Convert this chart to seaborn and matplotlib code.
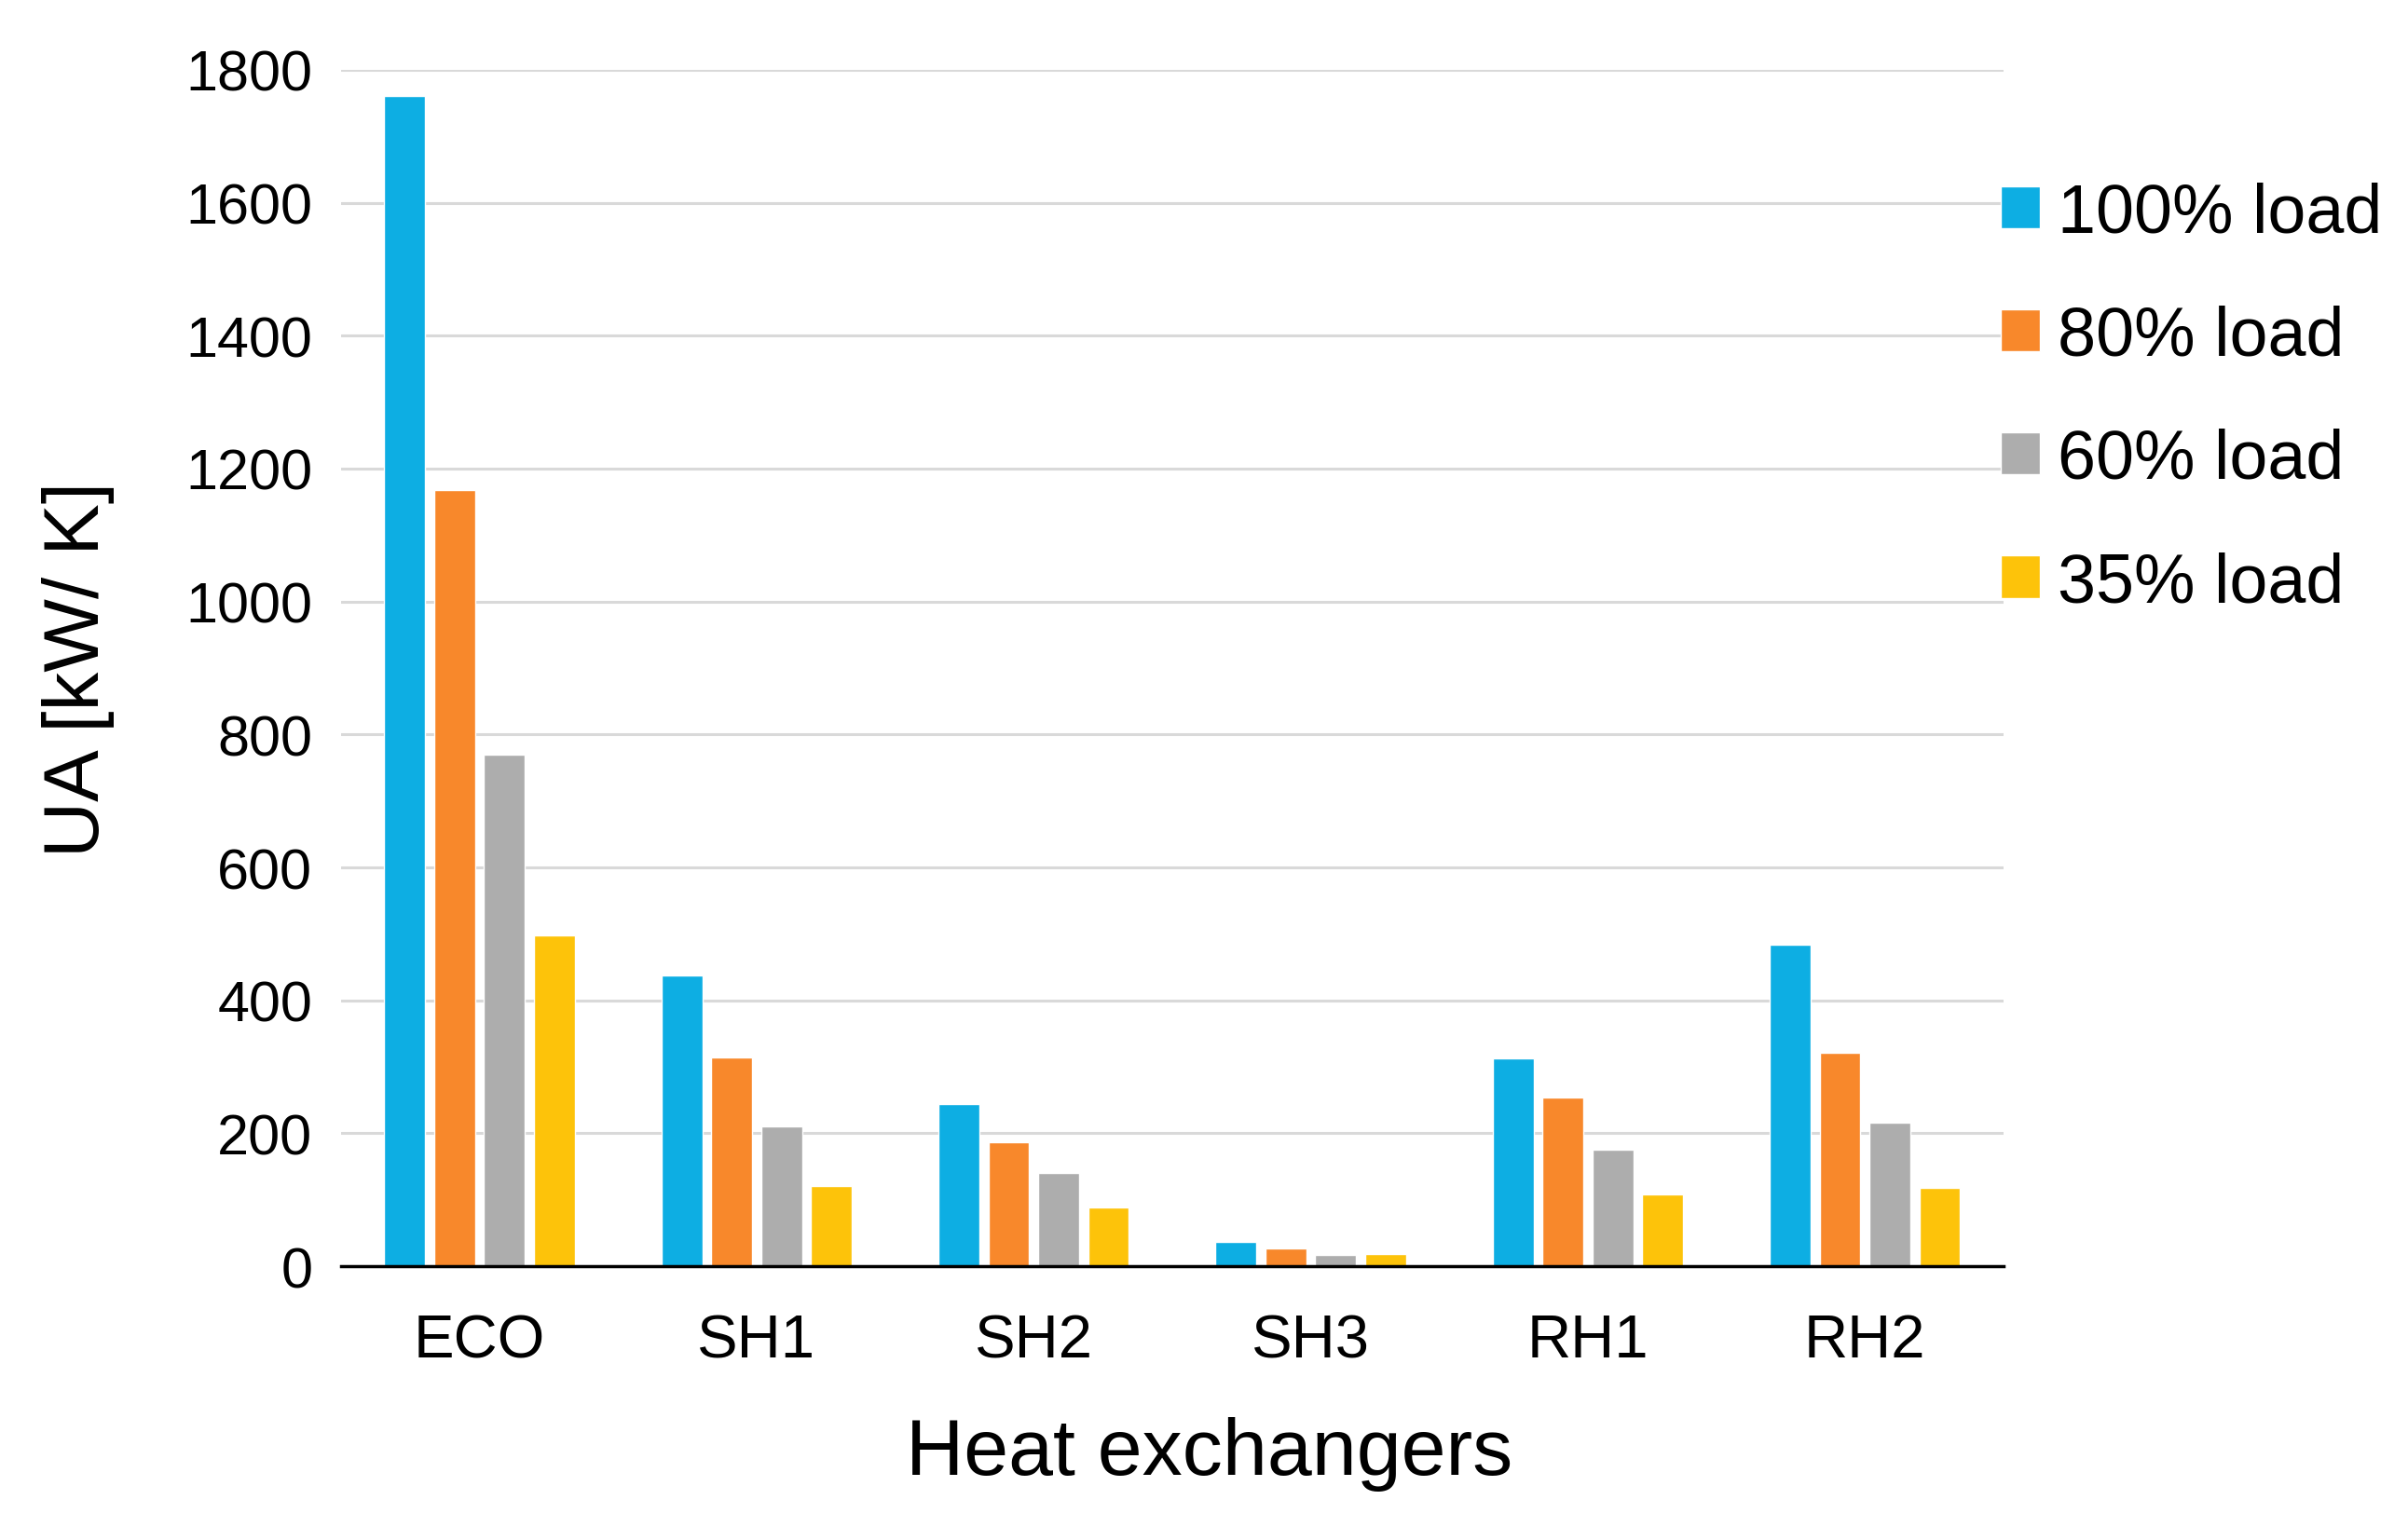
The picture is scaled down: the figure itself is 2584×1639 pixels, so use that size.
import pandas as pd
import numpy as np
import matplotlib
matplotlib.use("Agg")
import matplotlib.pyplot as plt
import seaborn as sns

# datos
exchangers = ['ECO', 'SH1', 'SH2', 'SH3', 'RH1', 'RH2']
loads = ['100% load', '80% load', '60% load', '35% load']
ua_100 = [1760, 438, 244, 37, 312, 484]
ua_80 = [1168, 314, 186, 27, 254, 321]
ua_60 = [770, 211, 140, 17, 175, 216]
ua_35 = [497, 120, 89, 18, 108, 118]
colors = ['#0DAEE3', '#F8882B', '#ADADAD', '#FDC30A']

# tabla larga para seaborn
rows = []
for load, vals in zip(loads, [ua_100, ua_80, ua_60, ua_35]):
    for ex, v in zip(exchangers, vals):
        rows.append({'exchanger': ex, 'load': load, 'UA': v})
df = pd.DataFrame(rows)

sns.set_style('white')
plt.rcParams['font.family'] = ['Liberation Sans', 'DejaVu Sans']
plt.rcParams['text.color'] = 'black'
plt.rcParams['axes.labelcolor'] = 'black'
plt.rcParams['xtick.color'] = 'black'
plt.rcParams['ytick.color'] = 'black'

fig = plt.figure(figsize=(25.84, 16.4), dpi=100)
ax = fig.add_axes([0.1416, 0.1707, 0.6904, 0.783])

sns.barplot(data=df, x='exchanger', y='UA', hue='load', order=exchangers,
            hue_order=loads, palette=colors, saturation=1, width=0.72,
            gap=0.18, ax=ax)

ax.set_ylim(0, 1800)
ax.set_xlim(-0.5, 5.5)
ax.set_yticks(np.arange(0, 1801, 200))
ax.yaxis.grid(True, color='#D9D9D9', lw=2.2)
ax.set_axisbelow(True)
for s in ['top', 'right', 'left']:
    ax.spines[s].set_visible(False)
ax.spines['bottom'].set_color('black')
ax.spines['bottom'].set_linewidth(2.5)
ax.tick_params(axis='both', length=0)
ax.tick_params(axis='y', labelsize=44, pad=22)
ax.tick_params(axis='x', labelsize=47, pad=36)

ax.set_xlabel('Heat exchangers', fontsize=62, labelpad=37)
ax.xaxis.label.set_x(0.522)
ax.set_ylabel('UA [kW/ K]', fontsize=60, labelpad=55)

ax.legend(loc='upper left', bbox_to_anchor=(0.831, 0.881),
          bbox_transform=fig.transFigure, frameon=False, fontsize=53,
          handlelength=0.57, handleheight=0.57, handletextpad=0.25,
          labelspacing=0.86, borderpad=0, borderaxespad=0)

fig.savefig('out.png', dpi=100)
